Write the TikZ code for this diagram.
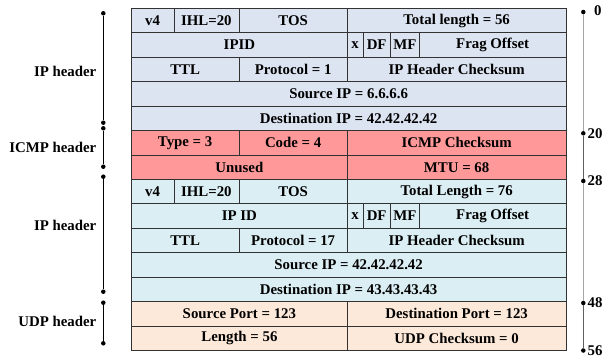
\documentclass[tikz,border=0pt]{standalone}
\usepackage{fontspec}
\setmainfont{Liberation Serif}
\definecolor{ipA}{RGB}{220,228,241}
\definecolor{ipB}{RGB}{218,238,243}
\definecolor{icmpc}{RGB}{255,153,153}
\definecolor{udpc}{RGB}{253,233,217}
\definecolor{linec}{RGB}{50,50,50}
\definecolor{lgray}{RGB}{165,165,165}
\definecolor{dgray}{RGB}{95,95,95}
\begin{document}
\begin{tikzpicture}[x=1bp,y=-1bp,
  txt/.style={font=\bfseries\fontsize{14.9}{16}\selectfont},
  cell/.style={txt, draw=linec, line width=0.8bp, anchor=north west, inner sep=0pt, minimum height=24.43bp},
  wv/.style={cell, minimum width=42.5bp},
  wi/.style={cell, minimum width=65bp},
  wq/.style={cell, minimum width=108.5bp},
  wt/.style={cell, minimum width=107.5bp},
  wh/.style={cell, minimum width=218.5bp},
  wl/.style={cell, minimum width=216bp},
  wx/.style={cell, minimum width=15.5bp},
  wd/.style={cell, minimum width=27.5bp},
  wm/.style={cell, minimum width=29bp},
  wf/.style={cell, minimum width=146.5bp},
  wfull/.style={cell, minimum width=434.5bp},
  dot/.style={circle, fill=black, inner sep=0pt, minimum size=4.5bp},
  lab/.style={txt, anchor=east, inner sep=0pt},
  num/.style={txt, anchor=west, inner sep=0pt}]
\useasboundingbox (0,0) rectangle (610,358);

% ---- IP header 1
\node[wv, fill=ipA] (a1) at (131,8) {v4};
\node[wi, fill=ipA] (a2) at (173.5,8) {IHL=20};
\node[wq, fill=ipA] (a3) at (238.5,8) {TOS};
\node[wh, fill=ipA] (a4) at (347,8) {Total length = 56};
\node[wl, fill=ipA] (b1) at (131,32.43) {IPID};
\node[wx, fill=ipA] (b2) at (347,32.43) {x};
\node[wd, fill=ipA] (b3) at (362.5,32.43) {DF};
\node[wm, fill=ipA] (b4) at (390,32.43) {MF};
\node[wf, fill=ipA] (b5) at (419,32.43) {Frag Offset};
\node[wt, fill=ipA] (c1) at (131,56.86) {TTL};
\node[wq, fill=ipA] (c2) at (238.5,56.86) {Protocol = 1};
\node[wh, fill=ipA] (c3) at (347,56.86) {IP Header Checksum};
\node[wfull, fill=ipA] (d1) at (131,81.29) {Source IP = 6.6.6.6};
\node[wfull, fill=ipA] (e1) at (131,105.71) {Destination IP = 42.42.42.42};
% ---- ICMP
\node[wt, fill=icmpc] (f1) at (131,130.14) {Type = 3};
\node[wq, fill=icmpc] (f2) at (238.5,130.14) {Code = 4};
\node[wh, fill=icmpc] (f3) at (347,130.14) {ICMP Checksum};
\node[wl, fill=icmpc] (g1) at (131,154.57) {Unused};
\node[wh, fill=icmpc] (g2) at (347,154.57) {MTU = 68};
% ---- IP header 2
\node[wv, fill=ipB] (h1) at (131,179) {v4};
\node[wi, fill=ipB] (h2) at (173.5,179) {IHL=20};
\node[wq, fill=ipB] (h3) at (238.5,179) {TOS};
\node[wh, fill=ipB] (h4) at (347,179) {Total Length = 76};
\node[wl, fill=ipB] (i1) at (131,203.43) {IP ID};
\node[wx, fill=ipB] (i2) at (347,203.43) {x};
\node[wd, fill=ipB] (i3) at (362.5,203.43) {DF};
\node[wm, fill=ipB] (i4) at (390,203.43) {MF};
\node[wf, fill=ipB] (i5) at (419,203.43) {Frag Offset};
\node[wt, fill=ipB] (j1) at (131,227.86) {TTL};
\node[wq, fill=ipB] (j2) at (238.5,227.86) {Protocol = 17};
\node[wh, fill=ipB] (j3) at (347,227.86) {IP Header Checksum};
\node[wfull, fill=ipB] (k1) at (131,252.29) {Source IP = 42.42.42.42};
\node[wfull, fill=ipB] (l1) at (131,276.71) {Destination IP = 43.43.43.43};
% ---- UDP
\node[wl, fill=udpc] (m1) at (131,301.14) {Source Port = 123};
\node[wh, fill=udpc] (m2) at (347,301.14) {Destination Port = 123};
\node[wl, fill=udpc] (n1) at (131,325.57) {Length = 56};
\node[wh, fill=udpc] (n2) at (347,325.57) {UDP Checksum = 0};

% ---- left brackets
\node[dot] (L1a) at (103.3,13.3) {};
\node[dot] (L1b) at (103.3,122.7) {};
\node[dot] (L2a) at (103.3,128.3) {};
\node[dot] (L2b) at (103.3,166.7) {};
\node[dot] (L3a) at (103.3,176.7) {};
\node[dot] (L3b) at (103.3,291.7) {};
\node[dot] (L4a) at (103.3,302.7) {};
\node[dot] (L4b) at (103.3,343.3) {};
\draw[line width=0.9bp] (L1a) -- (L1b);
\draw[line width=0.9bp] (L2a) -- (L2b);
\draw[line width=0.9bp] (L3a) -- (L3b);
\draw[line width=0.9bp] (L4a) -- (L4b);
\node[lab] (t1) at (96.5,71) {IP header};
\node[lab] (t2) at (96.5,147) {ICMP header};
\node[lab] (t3) at (96.5,225) {IP header};
\node[lab] (t4) at (96.5,321) {UDP header};

% ---- right scale
\node[dot] (R0) at (583.3,12) {};
\node[dot] (R20) at (583.3,133.3) {};
\node[dot] (R28) at (583.3,181) {};
\node[dot] (R48) at (583.3,303) {};
\node[dot] (R56) at (583.3,350.5) {};
\draw[lgray, line width=1.1bp] (R0) -- (R20);
\draw[dgray, line width=1.1bp] (R20) -- (R28);
\draw[lgray, line width=1.1bp] (R28) -- (R48);
\draw[dgray, line width=1.1bp] (R48) -- (R56);
\node[num] (n0) at (594,11) {0};
\node[num] (n20) at (587.5,133.3) {20};
\node[num] (n28) at (587.5,181) {28};
\node[num] (n48) at (587.5,303) {48};
\node[num] (n56) at (587.5,350.5) {56};
\end{tikzpicture}
\end{document}
